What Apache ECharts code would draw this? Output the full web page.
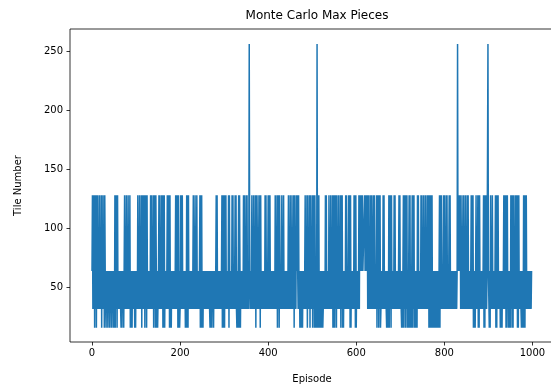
<!DOCTYPE html>
<html>
<head>
<meta charset="utf-8">
<script src="https://cdn.jsdelivr.net/npm/echarts@6/dist/echarts.min.js"></script>
<style>
    html, body { margin: 0; padding: 0; background: #fff; overflow: hidden; }
    /* a bit wider than the window: the right spine sits just past the edge */
    #chart { width: 560px; height: 389px; }
</style>
</head>
<body>
<div id="chart"></div>
<script>
// tile levels, coded 1..5 in the rows below
var tileLevels = [16, 32, 64, 128, 256];
var xTicks = [0, 200, 400, 600, 800, 1000];
var yTicks = [50, 100, 150, 200, 250];

// max tile per episode, 50 episodes per row
var episodeRows = [
    '34242414241424' + '232' + '42324142324143' + '3132313231323132313',
    '31' + '41424142' + '32323213132313' + '4232423242324' + '1313132323131',
    '3232' + '4232423241424' + '32' + '41424142' + '323232' + '42423' + '2' + '4142414' + '3131',
    '13' + '42423' + '2' + '4241414' + '132323' + '4242414' + '131323232323' + '4242414' + '131',
    '2' + '4242423' + '2323131' + '414142' + '323232323' + '4232423242' + '32323' + '41414',
    '1313' + '32323232323232' + '131313231' + '32323' + '424232' + '3232323' + '41414',
    '31' + '42423' + '232' + '4142' + '3232' + '4242' + '323' + '4242' + '1313' + '414' + '31323232' + '424232',
    '42423' + '2353' + '2323' + '42324232414232423241423' + '2323232' + '42423' + '23',
    '4242423' + '232323232' + '42324142414' + '2323' + '42324232' + '3232323' + '4232',
    '42324232414232' + '434' + '32423' + '131313132323' + '4232414232414232',
    '4142414' + '3131' + '5' + '1414131' + '31313123232' + '4242' + '3232' + '423242324141',
    '4142414' + '232' + '42324142413' + '13232' + '42423' + '23' + '42414' + '1323232' + '42414',
    '13' + '3232' + '42' + '434343433334343434' + '2424232424' + '323' + '424232' + '3' + '4142',
    '414241' + '23232' + '42423' + '23213131' + '41424142' + '3232' + '42423' + '232323' + '424',
    '232' + '1313' + '4142414241' + '313' + '4141' + '313' + '414241' + '313131' + '424232' + '32' + '424',
    '23242324232423' + '4141414141' + '313131313131313' + '414242' + '323' + '42',
    '423' + '2' + '424232' + '3' + '4242' + '323232323232323' + '5' + '34343' + '42324232423242',
    '32' + '424232' + '323' + '424241' + '31313' + '42324141423' + '232323' + '414142423' + '3' + '5',
    '3' + '3131' + '42324232' + '323' + '414142423' + '23' + '13131' + '323' + '424241414' + '23' + '1313',
    '1' + '42414142' + '32' + '424241414' + '2323213' + '131' + '414142423' + '23232323233'
];

function buildSeriesData(rows) {
    var codes = rows.join('');
    var data = [];
    for (var i = 0; i < codes.length; i++) {
        data.push([i, tileLevels[parseInt(codes.charAt(i), 10) - 1]]);
    }
    return data;
}

var chart = echarts.init(document.getElementById('chart'), null, { renderer: 'canvas' });
var font = 'DejaVu Sans';

var option = {
    animation: false,
    backgroundColor: '#fff',
    title: {
        text: 'Monte Carlo Max Pieces',
        left: 312,
        top: 5,
        textAlign: 'center',
        textStyle: {
            fontFamily: font,
            fontSize: 12,
            fontWeight: 'normal',
            color: '#000'
        }
    },
    grid: {
        left: 70,
        top: 29,
        width: 484,
        height: 315,
        show: true,
        borderColor: '#000',
        borderWidth: 0.8,
        backgroundColor: '#fff'
    },
    xAxis: {
        type: 'value',
        min: -49.95,
        max: 1048.95,
        name: 'Episode',
        nameLocation: 'middle',
        nameGap: 32,
        nameTextStyle: { fontFamily: font, fontSize: 10, color: '#000' },
        splitLine: { show: false },
        axisLine: { show: false, onZero: false },
        axisTick: {
            show: true,
            length: 3.5,
            lineStyle: { color: '#000', width: 0.8 },
            customValues: xTicks
        },
        axisLabel: {
            fontFamily: font,
            fontSize: 10,
            color: '#000',
            margin: 6,
            customValues: xTicks,
            formatter: function (value) {
                return String(value);
            }
        }
    },
    yAxis: {
        type: 'value',
        min: 4,
        max: 268.6,
        name: 'Tile Number',
        nameLocation: 'middle',
        nameGap: 47,
        nameTextStyle: { fontFamily: font, fontSize: 10, color: '#000' },
        splitLine: { show: false },
        axisLine: { show: false, onZero: false },
        axisTick: {
            show: true,
            length: 3.5,
            lineStyle: { color: '#000', width: 0.8 },
            customValues: yTicks
        },
        axisLabel: {
            fontFamily: font,
            fontSize: 10,
            color: '#000',
            margin: 7,
            customValues: yTicks
        }
    },
    series: [
        {
            type: 'line',
            data: buildSeriesData(episodeRows),
            showSymbol: false,
            symbol: 'none',
            lineStyle: { color: '#1f77b4', width: 1.5 },
            silent: true
        }
    ]
};

chart.setOption(option);
</script>
</body>
</html>
